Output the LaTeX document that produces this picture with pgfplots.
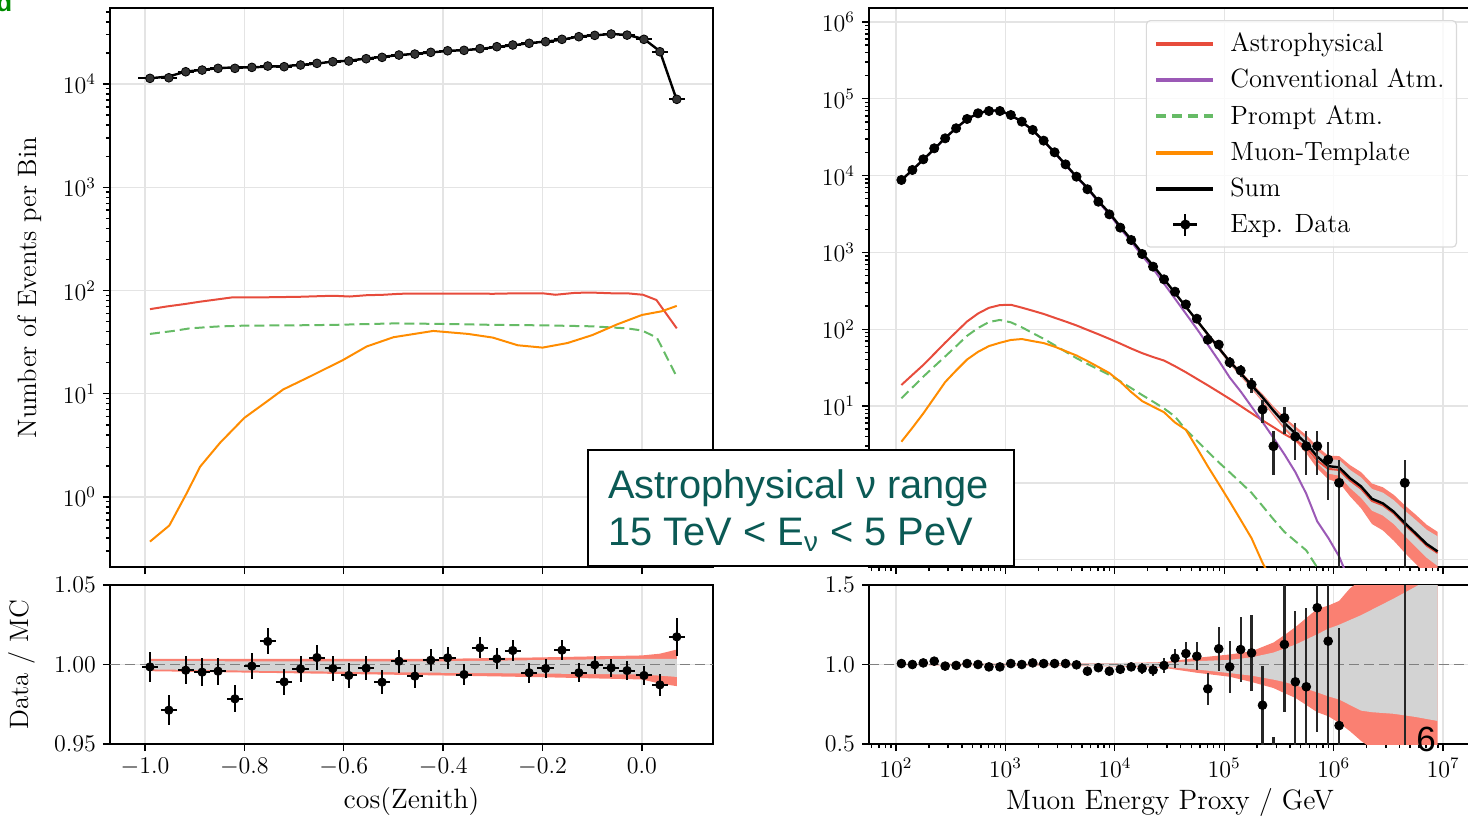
\documentclass[border=0pt]{standalone}
\usepackage{fontspec}
\newfontfamily\boxfont{Liberation Sans}
\usepackage{pgfplots}
\usepackage{pgfplotstable}
\pgfplotsset{compat=1.18}

\definecolor{astro}{HTML}{E74C3C}
\definecolor{conv}{HTML}{9B59B6}
\definecolor{prompt}{HTML}{66BB66}
\definecolor{muon}{HTML}{FF8C00}
\definecolor{bandred}{HTML}{FA8072}
\definecolor{bandgray}{HTML}{D3D3D3}
\definecolor{boxtext}{HTML}{0B5A55}
\definecolor{gridc}{HTML}{E4E4E4}

% cos(zenith) panel: data, MC sum, ratio
\pgfplotstableread{
x data mc err xe r re
-0.990 11350 11367 107 0.0165 0.9985 0.0094
-0.952 11500 11840 107 0.0165 0.9713 0.0093
-0.918 13150 13198 115 0.0165 0.9964 0.0087
-0.885 13650 13716 117 0.0165 0.9952 0.0086
-0.853 14190 14250 119 0.0165 0.9958 0.0084
-0.819 14190 14503 119 0.0165 0.9784 0.0084
-0.785 14500 14515 120 0.0165 0.9990 0.0083
-0.753 14930 14717 122 0.0165 1.0145 0.0082
-0.720 14720 14882 121 0.0165 0.9891 0.0082
-0.687 15280 15321 124 0.0165 0.9973 0.0081
-0.654 15860 15791 126 0.0165 1.0044 0.0079
-0.622 16450 16491 128 0.0165 0.9975 0.0078
-0.590 16710 16826 129 0.0165 0.9931 0.0077
-0.555 17590 17631 133 0.0165 0.9977 0.0075
-0.523 18130 18333 135 0.0165 0.9889 0.0074
-0.489 19090 19050 138 0.0165 1.0021 0.0072
-0.457 19510 19653 140 0.0165 0.9927 0.0072
-0.425 20270 20215 142 0.0165 1.0027 0.0070
-0.391 21000 20912 145 0.0165 1.0042 0.0069
-0.358 21200 21334 146 0.0165 0.9937 0.0069
-0.326 22030 21801 148 0.0165 1.0105 0.0067
-0.292 22990 22908 152 0.0165 1.0036 0.0066
-0.260 23880 23672 155 0.0165 1.0088 0.0065
-0.227 24790 24920 157 0.0165 0.9948 0.0064
-0.194 25710 25774 160 0.0165 0.9975 0.0062
-0.161 27100 26858 165 0.0165 1.0090 0.0061
-0.127 28730 28880 170 0.0165 0.9948 0.0059
-0.095 29600 29606 172 0.0165 0.9998 0.0058
-0.062 30490 30554 175 0.0165 0.9979 0.0057
-0.030 29780 29894 173 0.0165 0.9962 0.0058
0.004 27100 27288 165 0.0165 0.9931 0.0061
0.036 20550 20816 143 0.0165 0.9872 0.0070
0.070 7110 6988 84 0.0165 1.0174 0.0119
}\cosdata

% energy panel: experimental data and ratio
\pgfplotstableread{
E data err r re
112.2 8770 94 1.006 0.011
141.3 11830 109 1.000 0.0092
177.8 16300 128 1.010 0.0078
223.9 22650 150 1.021 0.0066
281.8 30560 175 0.990 0.0057
354.8 41300 203 0.994 0.0049
446.7 54600 234 1.006 0.0043
562.3 64700 254 1.000 0.0039
707.9 69300 263 0.985 0.0038
891.3 69300 263 0.985 0.0038
1122 61500 248 1.006 0.0040
1413 50400 224 1.000 0.0045
1778 39300 198 1.010 0.0050
2239 28500 169 1.006 0.0059
2818 20100 142 1.006 0.0071
3548 14000 118 1.006 0.0085
4467 9680 98 0.998 0.0102
5623 6640 81 0.958 0.0123
7079 4570 68 0.980 0.0148
8913 3130 56 0.958 0.0179
11220 2100 46 0.970 0.0218
14125 1450 38 0.985 0.0263
17783 953 31 0.975 0.0324
22387 652 25.5 0.965 0.0392
28184 446 21 0.994 0.0474
35481 308 17.5 1.040 0.059
44668 210 14.5 1.069 0.074
56234 137 11.7 1.052 0.088
70795 73 8.5 0.847 0.099
89125 63 7.9 1.099 0.138
112202 37 6.1 0.985 0.162
141254 29 5.4 1.094 0.203
177828 19 4.4 1.073 0.240
223872 9 3 0.744 0.248
281838 3 1.73 0.345 0.200
354813 7 2.65 1.126 0.426
446684 4 2 0.891 0.446
562341 3 1.73 0.860 0.496
707946 3 1.73 1.357 0.783
891251 2 1.41 1.147 0.811
1122018 1 0.999 0.616 0.616
4466836 1 0.999 3.3 3.3
}\edata

% energy panel: MC components
\pgfplotstableread{
E mc astro conv prompt muon
112.2 8718 18.8 8683 12.6 3.43
141.3 11830 25.4 11783 17.4 5.2
177.8 16139 34.2 16073 24.1 8.0
223.9 22184 47.7 22090 32.7 12.8
281.8 30869 66.7 30738 44.2 20.5
354.8 41549 91.8 41368 60 29
446.7 54274 126 54026 82 40.3
562.3 64700 160 64385 103.6 50.7
707.9 70355 190 69981 124 60.3
891.3 70355 206 69950 132 66.6
1122 61133 208 60730 123 72.4
1413 50400 191 50028 106 74.5
1778 38911 174 38578 89 70
2239 28330 158 28031 75 66
2818 19980 141 19718 62 59.3
3548 13917 126 13688 51 51.9
4467 9699 112 9500 42 45.5
5623 6931 98 6760 35.3 38.5
7079 4663 86 4515 30 32.2
8913 3267 75 3140 25.4 26.9
11220 2165 65 2058 21 20.7
14125 1472 56 1384 17.1 15.2
17783 977 48.8 902 13.9 11.6
22387 676 43.4 612 11.4 9.8
28184 449 39.1 392 9.3 8.3
35481 296 33 250 7.3 6.1
44668 196 27.5 159 4.9 4.9
56234 130 22.6 101 3.54 2.85
70795 86 18.6 63 2.55 1.64
89125 57 15.2 39 1.85 0.97
112202 38 12.4 23.5 1.37 0.57
141254 26.7 10.0 15.5 1.01 0.33
177828 18.6 8.05 9.8 0.74 0.19
223872 13.0 6.5 6.2 0.50 0.091
281838 8.7 5.3 3.85 0.335 0.05
354813 6.0 4.3 2.35 0.23 nan
446684 4.4 3.6 1.38 0.174 nan
562341 3.25 2.9 0.72 0.132 nan
707946 2.2 1.95 0.315 0.079 nan
891251 1.65 1.52 0.193 0.05 nan
1122018 1.59 1.47 0.110 nan nan
1412538 1.15 1.07 0.05 nan nan
1778279 0.9 0.84 nan nan nan
2238721 0.62 0.58 nan nan nan
2818383 0.54 0.51 nan nan nan
3548134 0.42 0.40 nan nan nan
4466836 0.30 0.285 nan nan nan
5623413 0.22 0.21 nan nan nan
7079458 0.16 0.152 nan nan nan
8912509 0.128 0.122 nan nan nan
}\emc

\pgfplotsset{
  mpl/.style={
    scale only axis,
    anchor=south west,
    axis line style={line width=0.8pt},
    tick align=outside, tick pos=left,
    major tick length=3.5pt, minor tick length=2pt,
    tick style={black, line width=0.7pt},
    grid=major, major grid style={gridc, line width=0.7pt},
    tick label style={font=\fontsize{11.5}{12}\selectfont},
    xlabel style={font=\fontsize{14}{16}\selectfont},
    ylabel style={font=\fontsize{13.3}{15}\selectfont},
  },
  datapts/.style={only marks, mark=*, mark size=2.1pt, black, mark options={fill=black}},
}

\begin{document}
\begin{tikzpicture}
\path[use as bounding box] (0pt,0pt) rectangle (734pt,408pt);
\clip (0pt,0pt) rectangle (734pt,408pt);

% ---------------- top-left: cos(zenith) distribution ----------------
\begin{axis}[mpl, at={(55pt,124.5pt)}, width=301.5pt, height=279.5pt,
  xmin=-1.0704, xmax=0.1429, ymode=log, ymin=0.21, ymax=54500,
  xtick={-1,-0.8,-0.6,-0.4,-0.2,0}, xticklabels={},
  ytick={1,10,100,1000,10000},
  minor ytick={0.3,0.4,0.5,0.6,0.7,0.8,0.9,2,3,4,5,6,7,8,9,20,30,40,50,60,70,80,90,200,300,400,500,600,700,800,900,2000,3000,4000,5000,6000,7000,8000,9000,20000,30000,40000,50000},
  ylabel={Number of Events per Bin},
  ylabel style={at={(axis description cs:-0.1327,0.5)}, anchor=center}]
\addplot[astro, line width=1pt] coordinates {
(-0.99,66) (-0.957,70) (-0.92,74) (-0.889,78) (-0.855,82) (-0.823,86) (-0.79,86)
(-0.756,86) (-0.72,86.5) (-0.688,87) (-0.655,88) (-0.621,89) (-0.588,87.5) (-0.555,90)
(-0.52,91) (-0.487,93) (-0.45,93.5) (-0.4,93.5) (-0.35,93.5) (-0.3,93) (-0.25,94)
(-0.2,94) (-0.174,91) (-0.134,95) (-0.1,95.5) (-0.06,94) (-0.03,94) (0.002,91)
(0.029,81) (0.07,43)};
\addplot[prompt, line width=1pt, dash pattern=on 5pt off 2.5pt] coordinates {
(-0.99,38) (-0.943,40.6) (-0.91,43) (-0.856,44.8) (-0.8,45.7) (-0.7,46) (-0.62,46.5)
(-0.5,48) (-0.4,47.5) (-0.3,46.5) (-0.2,46) (-0.1,45) (-0.03,43) (0.0,41) (0.03,35) (0.07,14.6)};
\addplot[muon, line width=1pt] coordinates {
(-0.99,0.37) (-0.951,0.53) (-0.916,1.09) (-0.889,1.97) (-0.849,3.35) (-0.8,5.85)
(-0.755,8.4) (-0.722,11) (-0.668,14.7) (-0.601,21.3) (-0.554,28.7) (-0.5,35.3)
(-0.42,40.6) (-0.35,38) (-0.3,35) (-0.25,29.5) (-0.2,28) (-0.15,31) (-0.1,37)
(-0.05,47) (0.0,58) (0.04,63) (0.07,71)};
\addplot[black, line width=1.2pt] coordinates {(-1.014,11367) (-0.990,11367)};
\addplot[black, line width=1.2pt] table[x=x, y=mc] {\cosdata};
\addplot[datapts, mark size=2.2pt, mark options={fill=black!80}, error bars/.cd, x dir=both, x explicit, y dir=both, y explicit,
  error bar style={line width=1pt, black}, error mark=none]
  table[x=x, y=data, x error=xe, y error=err] {\cosdata};
\end{axis}

% ---------------- bottom-left: ratio ----------------
\begin{axis}[mpl, at={(55pt,36pt)}, width=301.5pt, height=79.5pt,
  xmin=-1.0704, xmax=0.1429, ymin=0.95, ymax=1.05,
  xtick={-1,-0.8,-0.6,-0.4,-0.2,0}, ytick={0.95,1,1.05},
  xticklabel style={/pgf/number format/.cd, fixed, fixed zerofill, precision=1},
  yticklabel style={/pgf/number format/.cd, fixed, fixed zerofill, precision=2},
  xlabel={cos(Zenith)}, ylabel={Data / MC},
  xlabel style={at={(axis description cs:0.5,-0.3648)}, anchor=center},
  ylabel style={at={(axis description cs:-0.146,0.5)}, anchor=center}]
\addplot[fill=bandred, draw=none] coordinates {
(-0.99,1.0036) (-0.7,1.0036) (-0.4,1.0036) (-0.2,1.0045) (0.0,1.0057) (0.036,1.0068) (0.07,1.0094)
(0.07,0.9864) (0.036,0.988) (0.0,0.9906) (-0.2,0.992) (-0.4,0.9931) (-0.7,0.9945) (-0.99,0.9958)} -- cycle;
\addplot[fill=bandgray, draw=none] coordinates {
(-0.99,1.0021) (-0.7,1.002) (-0.4,1.002) (-0.2,1.0028) (0.0,1.0036) (0.036,1.0036) (0.07,1.0036)
(0.07,0.9922) (0.036,0.993) (0.0,0.9937) (-0.2,0.9943) (-0.4,0.9948) (-0.7,0.9958) (-0.99,0.9969)} -- cycle;
\addplot[gray, line width=0.8pt, dash pattern=on 5pt off 2.5pt] coordinates {(-1.0704,1) (0.1429,1)};
\addplot[datapts, mark size=2.1pt, error bars/.cd, x dir=both, x explicit, y dir=both, y explicit,
  error bar style={line width=1pt, black}, error mark=none]
  table[x=x, y=r, x error=xe, y error=re] {\cosdata};
\end{axis}

% ---------------- top-right: energy distribution ----------------
\begin{axis}[mpl, at={(434.5pt,124.5pt)}, width=301pt, height=279.5pt,
  xmode=log, ymode=log, xmin=56.75, xmax=1.8e7, ymin=0.0802, ymax=1.52e6,
  xtick={1e2,1e3,1e4,1e5,1e6,1e7}, xticklabels={},
  minor xtick={6e1,7e1,8e1,9e1,2e2,3e2,4e2,5e2,6e2,7e2,8e2,9e2,2e3,3e3,4e3,5e3,6e3,7e3,8e3,9e3,2e4,3e4,4e4,5e4,6e4,7e4,8e4,9e4,2e5,3e5,4e5,5e5,6e5,7e5,8e5,9e5,2e6,3e6,4e6,5e6,6e6,7e6,8e6,9e6},
  ytick={0.1,1,10,100,1000,10000,100000,1000000},
  yticklabels={{},{},$10^{1}$,$10^{2}$,$10^{3}$,$10^{4}$,$10^{5}$,$10^{6}$},
  minor ytick={0.09,0.2,0.3,0.4,0.5,0.6,0.7,0.8,0.9,2,3,4,5,6,7,8,9,20,30,40,50,60,70,80,90,200,300,400,500,600,700,800,900,2e3,3e3,4e3,5e3,6e3,7e3,8e3,9e3,2e4,3e4,4e4,5e4,6e4,7e4,8e4,9e4,2e5,3e5,4e5,5e5,6e5,7e5,8e5,9e5},
  legend style={at={(1,1)}, anchor=north east, xshift=-7pt, yshift=-6pt,
    draw=black!15, line width=0.6pt, rounded corners=2pt, fill=white, fill opacity=0.8, text opacity=1,
    font=\fontsize{13.2}{15}\selectfont, row sep=3.3pt, inner xsep=4pt, inner ysep=4pt,
    nodes={inner sep=2pt},
    /tikz/every odd column/.append style={column sep=5.5pt}},
  legend cell align=left,
  legend image code/.code={\draw[#1] (0pt,0pt) -- (28.5pt,0pt);}]
\addlegendimage{astro, line width=2pt}\addlegendentry{Astrophysical}
\addlegendimage{conv, line width=2pt}\addlegendentry{Conventional Atm.}
\addlegendimage{prompt, line width=2pt, dash pattern=on 5pt off 3pt}\addlegendentry{Prompt Atm.}
\addlegendimage{muon, line width=2pt}\addlegendentry{Muon-Template}
\addlegendimage{black, line width=2pt}\addlegendentry{Sum}
\addlegendimage{legend image code/.code={
  \draw[black, line width=1.1pt] (8.5pt,0pt) -- (20.5pt,0pt);
  \draw[black, line width=1.1pt] (14.5pt,-5.5pt) -- (14.5pt,5.5pt);
  \fill[black, fill opacity=1] (14.5pt,0pt) circle (2.2pt);}}\addlegendentry{Exp. Data}

\addplot[forget plot, fill=bandred, draw=none] coordinates {
(28184,455.7) (44668,202.5) (70795,90.2) (112202,40.4) (141254,28.6) (177828,20.1) (223872,14.4)
(281838,9.9) (354813,7.11) (446684,5.43) (562341,4.19) (707946,2.97) (891251,2.26) (1122018,2.23)
(1412538,1.70) (1778279,1.38) (2238721,0.98) (2818383,0.875) (3548134,0.697) (4466836,0.51)
(5623413,0.385) (7079458,0.285) (8912509,0.230)
(8912509,0.0512) (7079458,0.064) (5623413,0.088) (4466836,0.123) (3548134,0.176) (2818383,0.240)
(2238721,0.291) (1778279,0.468) (1412538,0.667) (1122018,1.01) (891251,1.11) (707946,1.54)
(562341,2.42) (446684,3.48) (354813,4.92) (281838,7.41) (223872,11.3) (177828,16.6) (141254,24.2)
(112202,35.1) (70795,80.8) (44668,187.8) (28184,439.6)} -- cycle;
\addplot[forget plot, fill=bandgray, draw=none] coordinates {
(28184,453.5) (44668,199.3) (70795,88.1) (112202,39.1) (141254,27.7) (177828,19.4) (223872,13.8)
(281838,9.35) (354813,6.6) (446684,4.95) (562341,3.76) (707946,2.62) (891251,2.02) (1122018,1.99)
(1412538,1.47) (1778279,1.18) (2238721,0.834) (2818383,0.745) (3548134,0.594) (4466836,0.435)
(5623413,0.328) (7079458,0.245) (8912509,0.201)
(8912509,0.0826) (7079458,0.106) (5623413,0.147) (4466836,0.204) (3548134,0.290) (2818383,0.375)
(2238721,0.434) (1778279,0.639) (1412538,0.857) (1122018,1.24) (891251,1.32) (707946,1.82)
(562341,2.76) (446684,3.83) (354813,5.34) (281838,7.87) (223872,11.9) (177828,17.3) (141254,25.0)
(112202,35.9) (70795,82.6) (44668,191.1) (28184,442.3)} -- cycle;
\addplot[forget plot, astro, line width=1pt] table[x=E, y=astro] {\emc};
\addplot[forget plot, conv, line width=1pt] table[x=E, y=conv] {\emc};
\addplot[forget plot, prompt, line width=1pt, dash pattern=on 5pt off 2.5pt] table[x=E, y=prompt] {\emc};
\addplot[forget plot, muon, line width=1pt] table[x=E, y=muon] {\emc};
\addplot[forget plot, black, line width=1.2pt] table[x=E, y=mc] {\emc};
\addplot[forget plot, datapts, mark size=2.3pt, error bars/.cd, y dir=both, y explicit,
  error bar style={line width=1.1pt, black!85}, error mark=none]
  table[x=E, y=data, y error=err] {\edata};
\end{axis}

% ---------------- bottom-right: ratio ----------------
\begin{axis}[mpl, at={(434.5pt,36pt)}, width=301pt, height=79.5pt,
  xmode=log, xmin=56.75, xmax=1.8e7, ymin=0.5, ymax=1.5,
  xtick={1e2,1e3,1e4,1e5,1e6,1e7},
  minor xtick={6e1,7e1,8e1,9e1,2e2,3e2,4e2,5e2,6e2,7e2,8e2,9e2,2e3,3e3,4e3,5e3,6e3,7e3,8e3,9e3,2e4,3e4,4e4,5e4,6e4,7e4,8e4,9e4,2e5,3e5,4e5,5e5,6e5,7e5,8e5,9e5,2e6,3e6,4e6,5e6,6e6,7e6,8e6,9e6},
  ytick={0.5,1,1.5},
  yticklabel style={/pgf/number format/.cd, fixed, fixed zerofill, precision=1},
  xlabel={Muon Energy Proxy / GeV},
  xlabel style={at={(axis description cs:0.5,-0.3648)}, anchor=center}]
\addplot[fill=bandred, draw=none] coordinates {
(112.2,1.004) (3548,1.007) (11220,1.009) (28184,1.015) (56234,1.042) (112202,1.063) (177828,1.083)
(281838,1.138) (354813,1.185) (446684,1.235) (707946,1.35) (891251,1.37) (1122018,1.40) (1412538,1.48)
(1778279,1.53) (2238721,1.58) (3548134,1.66) (5623413,1.75) (8912509,1.80)
(8912509,0.40) (5623413,0.40) (3548134,0.42) (2238721,0.47) (1778279,0.52) (1412538,0.58)
(1122018,0.633) (891251,0.675) (707946,0.70) (446684,0.79) (354813,0.82) (281838,0.852)
(177828,0.89) (112202,0.923) (56234,0.948) (28184,0.979) (11220,0.987) (3548,0.992) (112.2,0.996)} -- cycle;
\addplot[fill=bandgray, draw=none] coordinates {
(112.2,1.003) (3548,1.005) (11220,1.008) (28184,1.010) (56234,1.021) (112202,1.029) (177828,1.045)
(281838,1.075) (354813,1.10) (446684,1.125) (707946,1.19) (891251,1.225) (1122018,1.25) (1412538,1.28)
(1778279,1.31) (2238721,1.345) (3548134,1.415) (5623413,1.49) (8912509,1.57)
(8912509,0.645) (5623413,0.67) (3548134,0.69) (2238721,0.70) (1778279,0.71) (1412538,0.745)
(1122018,0.78) (891251,0.80) (707946,0.825) (446684,0.87) (354813,0.89) (281838,0.905)
(177828,0.93) (112202,0.946) (56234,0.969) (28184,0.985) (11220,0.990) (3548,0.994) (112.2,0.997)} -- cycle;
\addplot[gray, line width=0.8pt, dash pattern=on 5pt off 2.5pt] coordinates {(56.75,1) (1.8e7,1)};
\addplot[datapts, mark size=2.2pt, error bars/.cd, y dir=both, y explicit,
  error bar style={line width=1.1pt, black!85}, error mark=none]
  table[x=E, y=r, y error=re] {\edata};
\end{axis}

% ---------------- overlay annotations ----------------
\draw[line width=1pt, fill=white] (294pt,125pt) rectangle (507pt,183pt);
\node[anchor=base west, inner sep=0pt, text=boxtext, font=\boxfont\fontsize{19.9}{22}\selectfont]
  at (304pt,159pt) {Astrophysical ν range};
\node[anchor=base west, inner sep=0pt, text=boxtext, font=\boxfont\fontsize{19.9}{22}\selectfont]
  at (304pt,135.5pt) {15 TeV < E\textsubscript{ν} < 5 PeV};
\node[anchor=center, inner sep=0pt, font=\boxfont\fontsize{17.5}{18}\selectfont] at (713pt,38.5pt) {6};
\node[anchor=base west, inner sep=0pt, text=green!55!black, font=\boxfont\bfseries\fontsize{13}{13}\selectfont]
  at (-2pt,402pt) {d};
\end{tikzpicture}
\end{document}
